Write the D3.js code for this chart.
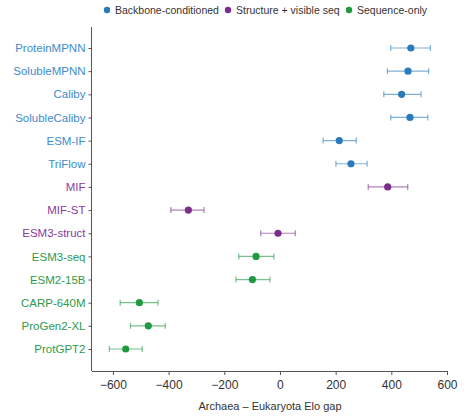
<!DOCTYPE html>
<html>
<head>
<meta charset="utf-8">
<script src="https://cdn.jsdelivr.net/npm/d3@7"></script>
<style>
  body { margin: 0; background: #fff; }
  text { font-family: "Liberation Sans", Arial, sans-serif; }
</style>
</head>
<body>
<div id="chart"></div>
<script>
// model names, top to bottom
let models = ['ProteinMPNN', 'SolubleMPNN', 'Caliby', 'SolubleCaliby', 'ESM-IF', 'TriFlow',
    'MIF', 'MIF-ST', 'ESM3-struct', 'ESM3-seq', 'ESM2-15B', 'CARP-640M', 'ProGen2-XL', 'ProtGPT2'];
let groups = ['bb', 'bb', 'bb', 'bb', 'bb', 'bb', 'sv', 'sv', 'sv', 'seq', 'seq', 'seq', 'seq', 'seq'];
let gap = [470, 460, 437, 467, 213, 255, 387, -329, -7, -86, -99, -505, -473, -554];
let gapLo = [398, 386, 373, 398, 155, 201, 317, -392, -69, -148, -158, -574, -537, -613];
let gapHi = [540, 534, 507, 531, 274, 313, 459, -273, 55, -22, -36, -438, -412, -495];
let xTicks = [-600, -400, -200, 0, 200, 400, 600];

let groupNames = ['Backbone-conditioned', 'Structure + visible seq', 'Sequence-only'];
let groupKeys = ['bb', 'sv', 'seq'];
let dotColor = { bb: '#2b7bba', sv: '#7b2d8e', seq: '#1f9a42' };
let labelColor = { bb: '#3d8ccc', sv: '#8a3b9e', seq: '#2f9a4a' };

let width = 467, height = 417;
let svg = d3.select('#chart').append('svg')
    .attr('width', width)
    .attr('height', height);

let x = d3.scaleLinear().domain([-677, 600]).range([91.5, 447]);
let y = d3.scalePoint().domain(models).range([48, 349]);

let rows = models.map((m, i) => ({ name: m, g: groups[i], v: gap[i], lo: gapLo[i], hi: gapHi[i] }));

// x axis
let xAxis = svg.append('g')
    .attr('transform', 'translate(0,371)')
    .call(d3.axisBottom(x).tickValues(xTicks).tickSize(4).tickSizeOuter(0)
        .tickFormat(d => d < 0 ? '\u2212' + Math.abs(d) : d));
xAxis.select('.domain').attr('stroke', '#555');
xAxis.selectAll('.tick line').attr('stroke', '#555');
xAxis.selectAll('.tick text').attr('font-size', 12).attr('fill', '#333')
    .attr('font-family', '"Liberation Sans", Arial, sans-serif').attr('dy', '0.95em');

svg.append('text')
    .attr('x', 270).attr('y', 410)
    .attr('text-anchor', 'middle')
    .attr('font-size', 11)
    .attr('fill', '#333')
    .text('Archaea \u2013 Eukaryota Elo gap');

// y axis
let yAxis = svg.append('g')
    .attr('transform', 'translate(91.5,0)')
    .call(d3.axisLeft(y).tickSize(3).tickSizeOuter(0).tickPadding(3));
yAxis.select('.domain').attr('d', 'M0,27V371').attr('stroke', '#555');
yAxis.selectAll('.tick line').attr('stroke', '#555');
yAxis.selectAll('.tick text')
    .attr('font-size', 11.5)
    .attr('font-family', '"Liberation Sans", Arial, sans-serif')
    .attr('fill', d => labelColor[groups[models.indexOf(d)]]);

// error bars
let bars = svg.append('g').selectAll('g').data(rows).enter().append('g')
    .attr('stroke', d => dotColor[d.g])
    .attr('stroke-opacity', 0.6)
    .attr('stroke-width', 1.2);
bars.append('line')
    .attr('x1', d => x(d.lo)).attr('x2', d => x(d.hi))
    .attr('y1', d => y(d.name)).attr('y2', d => y(d.name));
bars.append('line')
    .attr('x1', d => x(d.lo)).attr('x2', d => x(d.lo))
    .attr('y1', d => y(d.name) - 3).attr('y2', d => y(d.name) + 3);
bars.append('line')
    .attr('x1', d => x(d.hi)).attr('x2', d => x(d.hi))
    .attr('y1', d => y(d.name) - 3).attr('y2', d => y(d.name) + 3);

svg.append('g').selectAll('circle').data(rows).enter().append('circle')
    .attr('cx', d => x(d.v))
    .attr('cy', d => y(d.name))
    .attr('r', 3.6)
    .attr('fill', d => dotColor[d.g]);

// legend
let legX = [107, 228, 349];
let leg = svg.append('g').selectAll('g').data(groupKeys).enter().append('g')
    .attr('transform', (d, i) => 'translate(' + legX[i] + ',10)');
leg.append('circle').attr('r', 3.2).attr('fill', d => dotColor[d]);
leg.append('text')
    .attr('x', 8).attr('dy', '0.35em')
    .attr('font-size', 10.5)
    .attr('fill', '#333')
    .text((d, i) => groupNames[i]);
</script>
</body>
</html>
